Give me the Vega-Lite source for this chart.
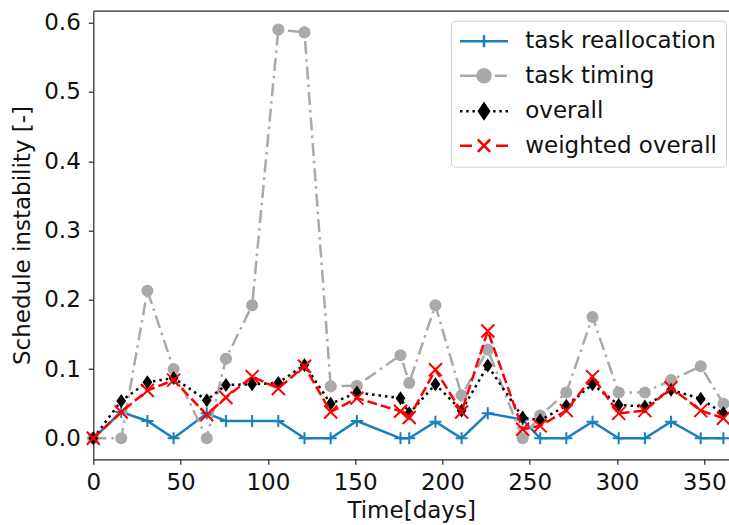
{
  "$schema": "https://vega.github.io/schema/vega-lite/v6.json",
  "autosize": {"type": "none"},
  "padding": {"left": 93.3, "top": 10.7, "right": 0, "bottom": 65.7},
  "width": 635.7,
  "height": 448.6,
  "background": "white",
  "config": {
    "view": {"stroke": null},
    "font": "DejaVu Sans",
    "axis": {
      "labelFont": "DejaVu Sans", "titleFont": "DejaVu Sans",
      "labelFontSize": 23, "titleFontSize": 23, "titleFontWeight": "normal",
      "labelColor": "#111111", "titleColor": "#111111",
      "domainColor": "#262626", "domainWidth": 1.2,
      "tickColor": "#262626", "tickWidth": 1.2, "tickSize": 5, "grid": false
    }
  },
  "data": {"values": [
    {"day": 0, "series": "task reallocation", "value": 0},
    {"day": 16, "series": "task reallocation", "value": 0.038},
    {"day": 31, "series": "task reallocation", "value": 0.025},
    {"day": 46, "series": "task reallocation", "value": 0},
    {"day": 65, "series": "task reallocation", "value": 0.036},
    {"day": 76, "series": "task reallocation", "value": 0.025},
    {"day": 91, "series": "task reallocation", "value": 0.025},
    {"day": 106, "series": "task reallocation", "value": 0.025},
    {"day": 121, "series": "task reallocation", "value": 0},
    {"day": 136, "series": "task reallocation", "value": 0},
    {"day": 151, "series": "task reallocation", "value": 0.025},
    {"day": 176, "series": "task reallocation", "value": 0},
    {"day": 181, "series": "task reallocation", "value": 0},
    {"day": 196, "series": "task reallocation", "value": 0.024},
    {"day": 211, "series": "task reallocation", "value": 0},
    {"day": 226, "series": "task reallocation", "value": 0.036},
    {"day": 246, "series": "task reallocation", "value": 0.027},
    {"day": 256, "series": "task reallocation", "value": 0},
    {"day": 271, "series": "task reallocation", "value": 0},
    {"day": 286, "series": "task reallocation", "value": 0.024},
    {"day": 301, "series": "task reallocation", "value": 0},
    {"day": 316, "series": "task reallocation", "value": 0},
    {"day": 331, "series": "task reallocation", "value": 0.024},
    {"day": 348, "series": "task reallocation", "value": 0},
    {"day": 361, "series": "task reallocation", "value": 0},
    {"day": 0, "series": "task timing", "value": 0},
    {"day": 16, "series": "task timing", "value": 0},
    {"day": 31, "series": "task timing", "value": 0.213},
    {"day": 46, "series": "task timing", "value": 0.1},
    {"day": 65, "series": "task timing", "value": 0},
    {"day": 76, "series": "task timing", "value": 0.115},
    {"day": 91, "series": "task timing", "value": 0.192},
    {"day": 106, "series": "task timing", "value": 0.59},
    {"day": 121, "series": "task timing", "value": 0.586},
    {"day": 136, "series": "task timing", "value": 0.075},
    {"day": 151, "series": "task timing", "value": 0.076},
    {"day": 176, "series": "task timing", "value": 0.12},
    {"day": 181, "series": "task timing", "value": 0.08},
    {"day": 196, "series": "task timing", "value": 0.192},
    {"day": 211, "series": "task timing", "value": 0.062},
    {"day": 226, "series": "task timing", "value": 0.128},
    {"day": 246, "series": "task timing", "value": 0},
    {"day": 256, "series": "task timing", "value": 0.033},
    {"day": 271, "series": "task timing", "value": 0.066},
    {"day": 286, "series": "task timing", "value": 0.175},
    {"day": 301, "series": "task timing", "value": 0.066},
    {"day": 316, "series": "task timing", "value": 0.066},
    {"day": 331, "series": "task timing", "value": 0.084},
    {"day": 348, "series": "task timing", "value": 0.104},
    {"day": 361, "series": "task timing", "value": 0.05},
    {"day": 0, "series": "overall", "value": 0},
    {"day": 16, "series": "overall", "value": 0.054},
    {"day": 31, "series": "overall", "value": 0.081},
    {"day": 46, "series": "overall", "value": 0.087},
    {"day": 65, "series": "overall", "value": 0.055},
    {"day": 76, "series": "overall", "value": 0.077},
    {"day": 91, "series": "overall", "value": 0.078},
    {"day": 106, "series": "overall", "value": 0.08},
    {"day": 121, "series": "overall", "value": 0.106},
    {"day": 136, "series": "overall", "value": 0.05},
    {"day": 151, "series": "overall", "value": 0.066},
    {"day": 176, "series": "overall", "value": 0.058},
    {"day": 181, "series": "overall", "value": 0.036},
    {"day": 196, "series": "overall", "value": 0.078},
    {"day": 211, "series": "overall", "value": 0.04},
    {"day": 226, "series": "overall", "value": 0.105},
    {"day": 246, "series": "overall", "value": 0.03},
    {"day": 256, "series": "overall", "value": 0.026},
    {"day": 271, "series": "overall", "value": 0.047},
    {"day": 286, "series": "overall", "value": 0.078},
    {"day": 301, "series": "overall", "value": 0.048},
    {"day": 316, "series": "overall", "value": 0.046},
    {"day": 331, "series": "overall", "value": 0.07},
    {"day": 348, "series": "overall", "value": 0.057},
    {"day": 361, "series": "overall", "value": 0.036},
    {"day": 0, "series": "weighted overall", "value": 0},
    {"day": 16, "series": "weighted overall", "value": 0.038},
    {"day": 31, "series": "weighted overall", "value": 0.069},
    {"day": 46, "series": "weighted overall", "value": 0.084},
    {"day": 65, "series": "weighted overall", "value": 0.034},
    {"day": 76, "series": "weighted overall", "value": 0.059},
    {"day": 91, "series": "weighted overall", "value": 0.089},
    {"day": 106, "series": "weighted overall", "value": 0.072},
    {"day": 121, "series": "weighted overall", "value": 0.104},
    {"day": 136, "series": "weighted overall", "value": 0.038},
    {"day": 151, "series": "weighted overall", "value": 0.058},
    {"day": 176, "series": "weighted overall", "value": 0.039},
    {"day": 181, "series": "weighted overall", "value": 0.03},
    {"day": 196, "series": "weighted overall", "value": 0.099},
    {"day": 211, "series": "weighted overall", "value": 0.038},
    {"day": 226, "series": "weighted overall", "value": 0.155},
    {"day": 246, "series": "weighted overall", "value": 0.013},
    {"day": 256, "series": "weighted overall", "value": 0.018},
    {"day": 271, "series": "weighted overall", "value": 0.04},
    {"day": 286, "series": "weighted overall", "value": 0.089},
    {"day": 301, "series": "weighted overall", "value": 0.036},
    {"day": 316, "series": "weighted overall", "value": 0.04},
    {"day": 331, "series": "weighted overall", "value": 0.073},
    {"day": 348, "series": "weighted overall", "value": 0.04},
    {"day": 361, "series": "weighted overall", "value": 0.029}
  ]},
  "resolve": {"axis": {"x": "independent", "y": "independent"}},
  "layer": [
    {
      "transform": [{"filter": "datum.series === 'task reallocation'"}],
      "mark": {"type": "line", "color": "#1a7fc1", "strokeWidth": 2.5},
      "encoding": {
        "x": {"field": "day", "type": "quantitative", "scale": {"domain": [0, 364.2], "nice": false, "zero": false},
              "axis": {"values": [0, 50, 100, 150, 200, 250, 300, 350], "title": "Time[days]", "labelPadding": 7, "titlePadding": 5, "labelFlush": false, "labelOverlap": false, "domain": true}},
        "y": {"field": "value", "type": "quantitative", "scale": {"domain": [-0.0303, 0.6173], "nice": false, "zero": false},
              "axis": {"values": [0, 0.1, 0.2, 0.3, 0.4, 0.5, 0.6], "format": ".1f", "title": "Schedule instability [-]", "labelPadding": 8, "titlePadding": 9, "labelFlush": false, "labelOverlap": false, "domain": true}}
      }
    },
    {
      "transform": [{"filter": "datum.series === 'task reallocation'"}],
      "mark": {"type": "point", "shape": "M-1,0L1,0M0,-1L0,1", "size": 144, "filled": false, "stroke": "#1a7fc1", "strokeWidth": 2, "opacity": 1},
      "encoding": {
        "x": {"field": "day", "type": "quantitative", "scale": {"domain": [0, 364.2], "nice": false, "zero": false}, "axis": null},
        "y": {"field": "value", "type": "quantitative", "scale": {"domain": [-0.0303, 0.6173], "nice": false, "zero": false}, "axis": null}
      }
    },
    {
      "transform": [{"filter": "datum.series === 'task timing'"}],
      "mark": {"type": "line", "color": "#a9a9a9", "strokeWidth": 2.5, "strokeDash": [13, 5, 2.5, 5]},
      "encoding": {
        "x": {"field": "day", "type": "quantitative", "scale": {"domain": [0, 364.2], "nice": false, "zero": false}, "axis": null},
        "y": {"field": "value", "type": "quantitative", "scale": {"domain": [-0.0303, 0.6173], "nice": false, "zero": false}, "axis": null}
      }
    },
    {
      "transform": [{"filter": "datum.series === 'task timing'"}],
      "mark": {"type": "point", "shape": "circle", "size": 145, "filled": true, "fill": "#a9a9a9", "strokeWidth": 0, "opacity": 1},
      "encoding": {
        "x": {"field": "day", "type": "quantitative", "scale": {"domain": [0, 364.2], "nice": false, "zero": false}, "axis": null},
        "y": {"field": "value", "type": "quantitative", "scale": {"domain": [-0.0303, 0.6173], "nice": false, "zero": false}, "axis": null}
      }
    },
    {
      "transform": [{"filter": "datum.series === 'overall'"}],
      "mark": {"type": "line", "color": "#000000", "strokeWidth": 2.5, "strokeDash": [2.5, 4]},
      "encoding": {
        "x": {"field": "day", "type": "quantitative", "scale": {"domain": [0, 364.2], "nice": false, "zero": false}, "axis": null},
        "y": {"field": "value", "type": "quantitative", "scale": {"domain": [-0.0303, 0.6173], "nice": false, "zero": false}, "axis": null}
      }
    },
    {
      "transform": [{"filter": "datum.series === 'overall'"}],
      "mark": {"type": "point", "shape": "M0,-1L0.7,0L0,1L-0.7,0Z", "size": 196, "filled": true, "fill": "#000000", "strokeWidth": 0, "opacity": 1},
      "encoding": {
        "x": {"field": "day", "type": "quantitative", "scale": {"domain": [0, 364.2], "nice": false, "zero": false}, "axis": null},
        "y": {"field": "value", "type": "quantitative", "scale": {"domain": [-0.0303, 0.6173], "nice": false, "zero": false}, "axis": null}
      }
    },
    {
      "transform": [{"filter": "datum.series === 'weighted overall'"}],
      "mark": {"type": "line", "color": "#ff0000", "strokeWidth": 2.5, "strokeDash": [10, 4]},
      "encoding": {
        "x": {"field": "day", "type": "quantitative", "scale": {"domain": [0, 364.2], "nice": false, "zero": false}, "axis": null},
        "y": {"field": "value", "type": "quantitative", "scale": {"domain": [-0.0303, 0.6173], "nice": false, "zero": false}, "axis": null}
      }
    },
    {
      "transform": [{"filter": "datum.series === 'weighted overall'"}],
      "mark": {"type": "point", "shape": "M-1,-1L1,1M-1,1L1,-1", "size": 169, "filled": false, "stroke": "#ff0000", "strokeWidth": 2, "opacity": 1},
      "encoding": {
        "x": {"field": "day", "type": "quantitative", "scale": {"domain": [0, 364.2], "nice": false, "zero": false}, "axis": null},
        "y": {"field": "value", "type": "quantitative", "scale": {"domain": [-0.0303, 0.6173], "nice": false, "zero": false}, "axis": null}
      }
    },
    {
      "transform": [{"filter": "false"}],
      "mark": {"type": "point", "filled": true, "opacity": 1},
      "encoding": {
        "x": {"field": "day", "type": "quantitative", "scale": {"domain": [0, 364.2], "nice": false, "zero": false},
              "axis": {"orient": "top", "labels": false, "ticks": false, "title": null, "domain": true}},
        "y": {"field": "value", "type": "quantitative", "scale": {"domain": [-0.0303, 0.6173], "nice": false, "zero": false}, "axis": null},
        "shape": {"field": "series", "type": "nominal",
          "scale": {"domain": ["task reallocation", "task timing", "overall", "weighted overall"],
                    "range": [
                      "M-12,0L12,0M0,-3L0,3",
                      "M-12,0L-2.4,0M5.4,0L11.4,0M3.24,0A3.24,3.24 0 1 1 -3.24,0A3.24,3.24 0 1 1 3.24,0Z",
                      "M-12,0L-10.8,0M-8.9,0L-7.7,0M-5.8,0L-4.6,0M4.6,0L5.8,0M7.7,0L8.9,0M10.8,0L12,0M0,-3.7L2.5,0L0,3.7L-2.5,0Z",
                      "M-12,0L-6,0M6,0L12,0M-3.1,-3.1L3.1,3.1M-3.1,3.1L3.1,-3.1"
                    ]},
          "legend": {"title": null, "orient": "none", "legendX": 357.7, "legendY": 10, "labelFont": "DejaVu Sans", "labelFontSize": 23, "labelColor": "#111111", "labelLimit": 400, "symbolSize": 16, "symbolStrokeWidth": 2.5, "symbolOffset": 12.5, "labelOffset": 29.7, "rowPadding": 10.5, "padding": 9, "strokeColor": "#cfcfcf", "fillColor": "rgba(255,255,255,0.8)", "cornerRadius": 4}},
        "fill": {"field": "series", "type": "nominal",
          "scale": {"domain": ["task reallocation", "task timing", "overall", "weighted overall"], "range": ["#1a7fc1", "#a9a9a9", "#000000", "#ff0000"]},
          "legend": {"title": null, "orient": "none", "legendX": 357.7, "legendY": 10, "labelFont": "DejaVu Sans", "labelFontSize": 23, "labelColor": "#111111", "labelLimit": 400, "symbolSize": 16, "symbolStrokeWidth": 2.5, "symbolOffset": 12.5, "labelOffset": 29.7, "rowPadding": 10.5, "padding": 9, "strokeColor": "#cfcfcf", "fillColor": "rgba(255,255,255,0.8)", "cornerRadius": 4}},
        "stroke": {"field": "series", "type": "nominal",
          "scale": {"domain": ["task reallocation", "task timing", "overall", "weighted overall"], "range": ["#1a7fc1", "#a9a9a9", "#000000", "#ff0000"]},
          "legend": {"title": null, "orient": "none", "legendX": 357.7, "legendY": 10, "labelFont": "DejaVu Sans", "labelFontSize": 23, "labelColor": "#111111", "labelLimit": 400, "symbolSize": 16, "symbolStrokeWidth": 2.5, "symbolOffset": 12.5, "labelOffset": 29.7, "rowPadding": 10.5, "padding": 9, "strokeColor": "#cfcfcf", "fillColor": "rgba(255,255,255,0.8)", "cornerRadius": 4}}
      }
    }
  ]
}
